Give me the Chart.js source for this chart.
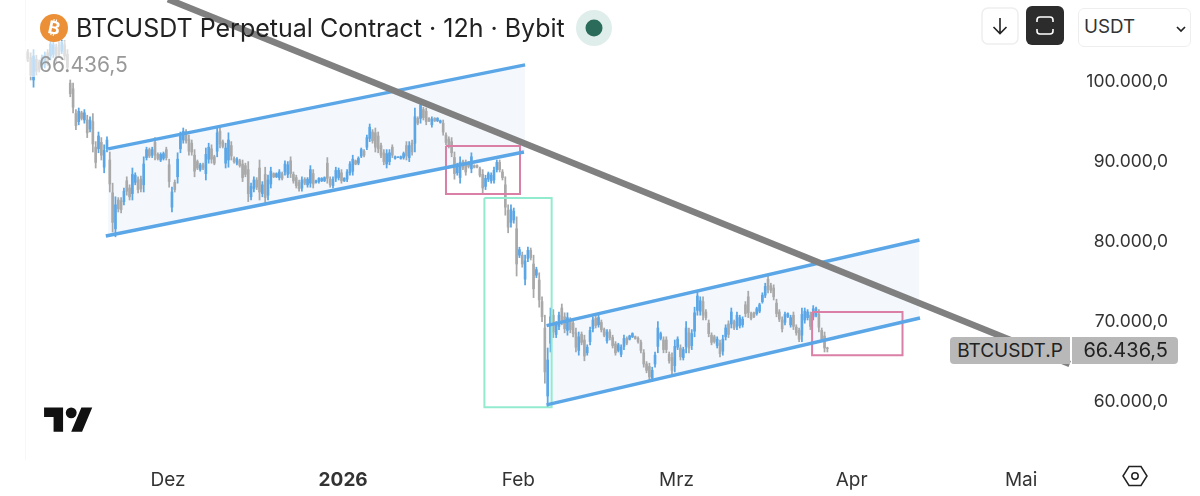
<!DOCTYPE html>
<html><head><meta charset="utf-8">
<style>
html,body{margin:0;padding:0;background:#fff;width:1200px;height:496px;overflow:hidden;font-family:Inter,"Noto Sans",sans-serif}
#w{position:relative;width:1200px;height:496px}
canvas{position:absolute;left:0;top:0}
.a{position:absolute}
</style>
<script src="https://cdn.jsdelivr.net/npm/chart.js@4/dist/chart.umd.min.js"></script>
</head><body><div id="w">
<canvas id="c" width="1200" height="496"></canvas>
<div class="a" style="left:25px;top:0;width:1px;height:460px;background:#f7f7f7"></div>
<div class="a" style="left:25px;top:41px;width:104px;height:36px;background:rgba(255,255,255,.62)"></div>
<svg class="a" style="left:40px;top:14px" width="28" height="28" viewBox="0 0 28 28"><circle cx="14" cy="14" r="14" fill="#ec9038"/></svg>
<div class="a" style="left:40px;top:14px;width:28px;height:28px;line-height:28px;text-align:center;color:#fff;font-size:18px;font-weight:700;transform:rotate(12deg)">₿</div>
<div class="a" id="title" style="left:76px;top:12px;font-size:25px;line-height:32px;color:#222;white-space:nowrap">BTCUSDT Perpetual Contract · 12h · Bybit</div>
<svg class="a" style="left:576px;top:10px" width="36" height="36"><circle cx="18" cy="18" r="18" fill="#dfeeea"/><circle cx="18" cy="18" r="8.5" fill="#2b6b59"/></svg>
<div class="a" style="left:39px;top:52px;font-size:21px;line-height:25px;color:#999">66.436,5</div>
<svg class="a" style="left:981px;top:7px" width="38" height="38"><rect x="1" y="1" width="36" height="36" rx="6" fill="#fff" stroke="#eeeeee" stroke-width="1.5"/><path d="M19 11V26M12.5 20L19 26.5L25.5 20" fill="none" stroke="#222" stroke-width="1.6"/></svg>
<svg class="a" style="left:1026px;top:6px" width="38" height="39"><rect width="38" height="39" rx="6" fill="#2c2c2c"/><path d="M11 16V14Q11 11 14 11H24Q27 11 27 14V16M11 23V25Q11 28 14 28H24Q27 28 27 25V23" fill="none" stroke="#fff" stroke-width="1.6"/></svg>
<div class="a" style="left:1078px;top:8px;width:113px;height:39px;box-sizing:border-box;border:1.5px solid #eeeeee;border-radius:6px;background:#fff"></div>
<div class="a" style="left:1084px;top:15px;font-size:18.8px;line-height:24px;color:#333">USDT</div>
<svg class="a" style="left:1175px;top:25px" width="12" height="8"><path d="M2 2L6 6L10 2" fill="none" stroke="#222" stroke-width="1.7"/></svg>
<div class="a" style="left:950px;top:337px;width:120px;height:27px;line-height:27px;background:#b8b8b8;border-radius:4px 0 0 4px;text-align:center;font-size:19px;color:#222">BTCUSDT.P</div>
<div class="a" style="left:1072px;top:337px;width:106px;height:27px;line-height:27px;background:#b8b8b8;border-radius:0 4px 4px 0;box-sizing:border-box;padding-right:10px;text-align:right;font-size:20px;color:#222">66.436,5</div>
<svg class="a" style="left:44px;top:402px" width="49" height="38" viewBox="0 0 36 28"><path d="M14 22H7V11H0V4h14v18zM28 22h-8l7.5-18h8L28 22z" fill="#111"/><circle cx="20" cy="8" r="4" fill="#111"/></svg>
<svg class="a" style="left:1122px;top:464px" width="26" height="24"><path d="M7 2.5H19L25 12L19 21.5H7L1 12Z" fill="none" stroke="#222" stroke-width="1.5"/><circle cx="13" cy="12" r="3.2" fill="none" stroke="#222" stroke-width="1.5"/></svg>
</div>
<script>
const startDay=-25.3, stepDay=0.5; // days since 1 Dec 2025, 12h bars; prices in thousand USDT
const highs=[104,103.8,103.4,103.8,103.1,102.5,103.1,103.5,103.8,105,104.8,104.5,104.8,105,104.9,103.8,100,99.6,96.3,96.5,96.1,96.3,95.6,95.4,95.8,92.3,93.5,92.8,91.9,92.9,91,87.1,85.4,85.3,85.3,86.5,87.9,86.9,89,88.4,87.9,88,90.4,91.6,91.5,91.6,92.8,90.9,90.9,91,91.6,90.1,86.6,87.5,90.9,93.5,94,93.8,93.1,92.5,91.3,90,89.6,89.6,91.5,92.1,91.9,90.6,94.1,94.1,92.5,92.1,93.4,92.3,90.4,90.3,90.1,90,89.6,89.8,87.1,87.9,87.8,90,87.3,89.1,88.1,89.1,88.4,88.4,88.8,88.5,89.9,89.8,90.4,88.5,88.1,87.5,87.9,87.8,87.8,89.3,88.8,87.5,87.8,87.8,87.9,90.3,87.9,87.9,89.1,89,88.8,87.8,88.8,89.8,90.6,90,90.4,91.5,91.3,93.1,94.5,93.8,94,93.5,92.1,91.3,91.3,91.3,91.9,90.5,90.4,90.5,91,92.3,92.3,92.5,96.5,95.4,97.5,96.6,96.5,95.3,95.4,95.3,95.3,95,95,93.4,92.9,92.8,91,89.6,90.4,90,90,89.8,90.9,89.4,89.4,89.1,88.8,88.1,88.5,88.4,89.1,90,90,88.8,87.9,84.4,84.4,84,82.9,79.1,78.5,78.1,79.1,79,78.1,76.6,75.9,72.9,70.6,66.5,71.5,71.3,69.8,71,72,70.9,70.9,70.3,70,69,68.5,68.5,68.1,66.9,69.1,70.4,70.5,70.6,70,69,68.8,68.8,68.1,67.3,67.1,66.9,68.1,67.9,68.1,68.4,68,67.9,67.5,66.3,64.8,64.6,64.1,66,69.8,68.5,67.9,67.9,66,65.9,67.5,67.9,66.9,66.6,69.8,69,68.8,71.6,73.6,72.9,72.9,71.3,70,68.4,68.1,67.9,67.5,68.1,69.4,69.9,71.5,70,71,70.6,70.4,72.3,73.6,71,71,71.6,72.1,73.4,74.6,75.6,74.6,74.4,72.6,71.3,70.4,71,70.9,70.6,71,69.4,69,71.5,71.5,71.3,71,71.8,71.6,71.3,69,68.5,66.6];
const lows=[102,102.3,100,99.1,100.6,101,101.3,101.5,101.8,102.5,102.8,102.3,102.8,103.3,102.5,101,97.9,95.9,93.8,94.4,95,94.6,92.8,93.5,91,89,90.9,90,88.4,91,86,81,80.4,83.5,83.4,84.4,85.6,85,85,86.9,85.9,86,86,90,90.3,90.3,90,90,89.8,90,90,86.6,83.5,86,87.1,90.9,92.1,92.1,90.6,90.6,87.9,88.8,88.6,88.8,87.5,89.6,89.6,89.4,90.4,91.5,91.5,89,89.1,90,89.6,89.4,89.1,87.3,87.9,84.8,85,86,86.3,85,85.4,84.4,85,86.5,87.8,87.8,87.5,87.5,88.1,87.8,87.8,87.1,86.5,86.1,86.1,86.9,86.6,86.6,86.5,87.1,87.1,87.3,87.3,87.1,86.6,86.5,87.3,87.5,87.1,87.3,87.3,88.1,88.1,89.4,89.4,90.3,90.4,91.3,92.3,92.1,91,90.9,90.3,89.4,89,89.4,90.3,90.1,90.3,90.1,90.1,90,89.8,90.6,91,94.4,94.6,95,94.4,94.8,94.1,94.8,94.8,94.6,93.1,91.9,91.5,90.4,87.6,88.1,87.1,88.8,88.1,89,88.4,89,89,87.9,85.9,86.3,87.3,87.1,87.1,88.5,88.5,87.5,83.1,80.9,81.6,82.1,75.5,77.8,76.6,74.4,77.3,77.5,72.8,75.3,71.6,69.8,62.1,59.1,66,67.8,67.8,68.8,69.4,68.4,68.1,68.4,67.9,66,65.6,66.9,64.9,65.6,66.9,68.5,69,69.1,68.5,67.9,67.1,67.5,66.5,65.6,66,65.4,66.3,66.9,67.5,67.8,67.6,67.1,65.9,64.1,63.4,62.5,62.3,64.1,65.9,67.5,65.9,65.9,64.6,63.1,63.5,66.3,65,65,65.9,65.9,66.3,67.9,70.6,70.6,70,70,67.9,66.9,67.1,66.5,65.4,65.6,67.5,67.8,69,68.8,68.8,69,69.1,70.4,70.3,70,70.3,70.6,70.9,72.1,72.8,73.4,73.4,72.5,70.4,69.8,68.5,69.4,70.3,69.1,68.8,68.1,67.3,67.3,69.6,70,68.8,70,70.4,68.5,67.3,66,66];
const opens=[103.6,103.4,102.8,100,102.6,102.2,101.7,101.9,103.4,103,103.2,104.1,104.4,103.6,104.4,103.2,99.6,98.9,95.8,94.8,95.9,95,95,93.9,94.8,91.6,91.4,92.2,89.1,91.4,90,85.9,81.4,85,84.9,84.8,87.4,86.5,85.8,87.2,87.5,87.6,86.9,90.3,91.3,90.6,92.2,90.7,90,90.2,91.3,89.4,84.1,87.2,87.9,91.4,92.5,93.5,92.6,92.1,90.6,89.8,88.8,89.4,88.3,90.1,91.4,90.4,91.1,93.6,92.3,89.6,90,91.8,90.2,89.6,89.9,89.5,89.3,88.8,85.4,86.4,87.5,89,85.8,88.2,85.6,87,88.3,87.9,87.8,88.3,88.5,88.2,89.9,88.2,87.8,87.2,86.5,87.6,86.9,87.1,88.3,87.2,87.3,87.4,87.4,89.6,87.6,86.8,87.7,87.8,88.4,87.4,87.6,88.4,88.6,89.9,89.6,90.5,91.1,91.6,92.7,93.5,93.4,93,91.8,90.9,89.5,89.8,91.6,90.2,90.3,90.2,90.3,91.8,90.3,92.1,92.1,95.2,95.2,96.3,96.1,95.2,94.4,95.2,94.9,94.7,94.6,93.1,92.6,92.3,90.3,88.4,87.8,89.8,89.6,89.6,88.9,89.3,89.3,88.9,88.2,86.7,87.6,87.4,87.5,88.8,89.7,88.5,86.9,83.7,82.2,82.5,81.4,78.1,78.1,75.1,77.7,78.7,77,75.6,75,72.3,69,60.5,67.1,70.6,68.2,69.2,71.5,70.4,68.7,69.9,69.6,68.4,66.2,68.2,67.5,65.9,67.3,68.9,70.2,69.4,69.7,68.8,67.4,68.5,67.8,67,66.2,65.7,66.7,67.7,67.6,67.9,67.9,67.7,67.2,65.9,64.5,64.2,62.7,64.5,66.7,67.7,67.5,67.5,65.7,65.3,64.3,66.6,66.5,65.3,66.7,68.4,66.8,68.6,71.2,71.1,72.3,71,69.6,68.1,67.9,66.8,67.1,66.1,67.9,69.5,69.5,69.8,69.2,69.3,69.4,71.9,72.9,70.8,70.9,70.8,71.1,72.3,73.1,75.1,74.3,74,72.1,71,70,69.7,70.4,69.4,70.6,69.1,68.7,68.1,70,70.3,70.6,70.4,70.6,70.7,68.7,68,66.5];
const closes=[102.4,102.7,100.6,103,101.1,101.3,102.8,103.1,102.2,104.5,104.4,102.7,103.2,104.7,103,101.6,98.3,96.6,94.3,96.1,95.2,95.9,93.4,95,92,89.7,93,90.6,91.2,92.5,87,82.2,84.4,83.9,83.8,86.1,86.1,85.4,88.2,88.1,86.3,86.4,89.5,91.3,90.5,91.3,90.6,90.2,90.7,90.8,90.3,87.3,86,86.3,90.1,93,93.6,92.4,91.1,91,88.6,89,89.4,89,90.7,91.6,90.1,89.6,93.4,92,91.7,91.5,92.5,90.5,89.8,90.1,89.3,87.8,88.2,85.8,86.7,87.5,86.6,86,86.9,85.3,87.5,88.6,87.9,88.3,88.5,87.7,89.5,89.4,88.3,87.4,86.8,86.4,87.5,87.1,87.6,88.8,87,87.4,87.7,87.7,87.8,87.7,86.9,87.6,88.7,88.7,87.4,87.7,88.5,89.5,90.1,89.5,90.2,91.3,90.6,92.8,94.1,92.4,91.6,91.4,90.6,89.8,90.8,90.9,90.6,90.4,90.4,90.4,90.8,90.5,91.8,91,95.4,94.6,96.9,95.3,94.8,94.9,95.1,94.9,95.2,94.9,93.5,92.2,91.8,90.9,88.3,89.3,89.7,89,88.5,89.2,90.4,89.1,89.1,88.1,86.5,87.7,88.3,88.1,88.7,89.7,88.8,87.8,84.1,81.6,83.8,83.6,77,78.8,77,77.4,78.7,77.8,73.9,76.3,72.5,70.4,63.5,65,70.4,68.5,69.4,70.6,69.9,68.9,70.3,68.8,68.3,66.6,67.9,67.2,65.5,66.6,68.7,70,69.3,70.3,68.8,68.1,68.5,67.8,66.8,65.9,66.9,66.6,67.7,67.1,68,68.3,67.7,67.3,66.2,64.5,63.7,62.9,63.7,65.6,69,68.3,66.3,66.3,64.9,63.7,66.7,67.6,65.4,66.3,69,66.5,68.3,70.9,73,72.4,70.6,70.3,68.3,67.2,67.3,67.6,65.8,67.6,69,68.2,71,69,70.6,70.3,70.1,70.8,70.9,70.2,70.4,71.4,71.9,73.1,74.2,73.8,73.7,72.9,70.8,70.1,68.9,70.7,70.8,70.3,69.2,68.4,67.6,70.7,71.1,71,69.2,71.4,71.4,69.1,67.6,66.5,66.4365];
const upperChannelA={days:[-10.6,63.2],prices:[91.4,101.9]};
const lowerChannelA={days:[-11,63],prices:[80.5,91]};
const upperChannelB={days:[67,133],prices:[69.3,80]};
const lowerChannelB={days:[67,133.1],prices:[59.4,70.25]};
const downTrend={days:[0,159.6],prices:[110.1,64.5]};
const pinkBoxA={days:[49.2,62.3],prices:[91.75,85.75]};
const pinkBoxB={days:[114,130],prices:[71,65.6]};
const tealBox={days:[56,67.9],prices:[85.25,59.1]};
const priceTicks=[60,70,80,90,100];
const priceTickLabels=["60.000,0","70.000,0","80.000,0","90.000,0","100.000,0"];
const timeTicks=[0,31,62,90,121,151];
const timeTickLabels=["Dez","2026","Feb","Mrz","Apr","Mai"];

const BLUE="#5aa6e6",GRAY="#a9a9a9";
const dayOf=i=>startDay+i*stepDay;
const barColors=closes.map((c,i)=>c>=opens[i]?BLUE:GRAY);
const wickData=highs.map((h,i)=>({x:dayOf(i),y:[lows[i],h]}));
const bodyData=opens.map((o,i)=>({x:dayOf(i),y:[Math.min(o,closes[i]),Math.max(o,closes[i])]}));
const pts=l=>l.days.map((d,i)=>({x:d,y:l.prices[i]}));
const box=b=>[{x:b.days[0],y:b.prices[0]},{x:b.days[1],y:b.prices[0]},{x:b.days[1],y:b.prices[1]},{x:b.days[0],y:b.prices[1]},{x:b.days[0],y:b.prices[0]}];
const line=(data,color,width,order,extra)=>Object.assign({type:'line',data,borderColor:color,borderWidth:width,pointRadius:0,tension:0,fill:false,order,borderCapStyle:'butt'},extra||{});
const FILL="#f4f8fd";
new Chart(document.getElementById('c'),{
 data:{datasets:[
  line(pts({days:upperChannelA.days,prices:upperChannelA.prices}),'transparent',0,20,{fill:'+1',backgroundColor:FILL}),
  line(pts({days:upperChannelA.days,prices:[80.6,91.1]}),'transparent',0,20),
  line(pts({days:upperChannelB.days,prices:upperChannelB.prices}),'transparent',0,21,{fill:'+1',backgroundColor:FILL}),
  line(pts({days:upperChannelB.days,prices:lowerChannelB.prices}),'transparent',0,21),
  {type:'bar',data:wickData,backgroundColor:barColors,barThickness:1.1,grouped:false,order:11,borderWidth:0},
  {type:'bar',data:bodyData,backgroundColor:barColors,barThickness:2,grouped:false,order:10,borderWidth:0},
  line(box(tealBox),'#93ebcf',2,5),
  line(box(pinkBoxA),'#da7fa5',2,5),
  line(box(pinkBoxB),'#da7fa5',2,5),
  line(pts(upperChannelA),BLUE,3.4,3),
  line(pts(lowerChannelA),BLUE,3.4,3),
  line(pts(upperChannelB),BLUE,3.4,3),
  line(pts(lowerChannelB),BLUE,3.4,3),
  line(pts(downTrend),'#808080',6.5,2)
 ]},
 options:{
  responsive:false,animation:false,
  layout:{padding:{left:25,right:32,top:0,bottom:0}},
  plugins:{legend:{display:false},tooltip:{enabled:false}},
  scales:{
   x:{type:'linear',min:-25.31,max:160.53,offset:false,grid:{display:false,drawTicks:false},border:{display:false},
      afterFit:s=>{s.height=36;s.paddingLeft=0;s.paddingRight=0},
      afterBuildTicks:s=>{s.ticks=timeTicks.map(v=>({value:v}))},
      ticks:{autoSkip:false,maxRotation:0,padding:9,color:'#333',
        font:c=>({family:'Inter',size:19,weight:c.tick&&c.tick.value===31?'700':'400'}),
        callback:v=>timeTickLabels[timeTicks.indexOf(v)]}},
   y:{type:'linear',position:'right',min:52.5,max:110,grid:{display:false,drawTicks:false},border:{display:false},
      afterFit:s=>{s.width=93;s.paddingTop=0;s.paddingBottom=0},
      afterBuildTicks:s=>{s.ticks=priceTicks.map(v=>({value:v}))},
      ticks:{autoSkip:false,padding:0,labelOffset:2,crossAlign:'far',color:'#333',font:{family:'Inter',size:17.5},
        callback:v=>priceTickLabels[priceTicks.indexOf(v)]}}
  }
 }
});
</script>
</body></html>
